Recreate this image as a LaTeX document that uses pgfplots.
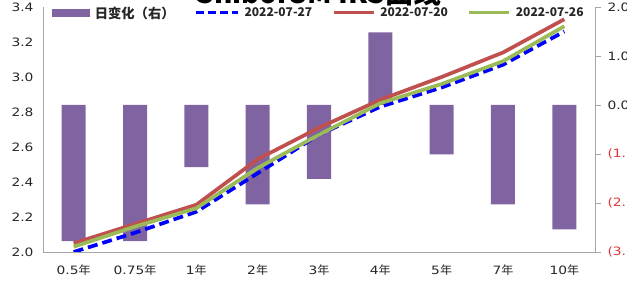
\documentclass[border=0pt]{standalone}
\usepackage{pgfplots}
\pgfplotsset{compat=1.18}
\usepackage{fontspec}
\setmainfont{DejaVu Sans}[FakeStretch=1.2]
\newfontfamily\cjk{Noto Sans CJK SC}
\newfontfamily\cjkw{Noto Sans CJK SC}[FakeStretch=1.05]
\definecolor{barpurple}{HTML}{8064A2}
\definecolor{linered}{HTML}{C0504D}
\definecolor{linegreen}{HTML}{9BBB59}
\definecolor{lineblue}{HTML}{0000FF}
\definecolor{negred}{HTML}{E0363A}
\definecolor{axgray}{HTML}{A6A6A6}
\definecolor{txt}{HTML}{262626}
\begin{document}
\begin{tikzpicture}[x=1pt,y=1pt]
\pgfplotsset{
  common/.style={
    at={(43pt,34pt)}, anchor=south west, scale only axis,
    width=552pt, height=245pt,
    xmin=-0.5, xmax=8.5,
    axis line style={axgray, line width=0.9pt},
    tick style={axgray, line width=0.9pt},
    ticklabel style={font=\fontsize{11.5}{13}\selectfont, text=txt},
  }
}
% right axis with bars
\begin{axis}[common,
  ymin=-3, ymax=2,
  axis y line*=right, axis x line=none,
  ytick={-3,-2,-1,0,1,2},
  yticklabels={\textcolor{negred}{(3.00)},\textcolor{negred}{(2.00)},\textcolor{negred}{(1.00)},0.00,1.00,2.00},
  tick align=outside, major tick length=6pt,
  yticklabel style={anchor=west, xshift=3pt},
]
\addplot[ybar, bar width=24pt, fill=barpurple, draw=none, bar shift=0pt] coordinates {
 (0,-2.78) (1,-2.78) (2,-1.27) (3,-2.03) (4,-1.51) (5,1.48) (6,-1.01) (7,-2.03) (8,-2.54)
};
\end{axis}
% left axis with lines
\begin{axis}[common,
  ymin=2, ymax=3.4,
  axis y line*=left, axis x line*=bottom,
  xtick={0,...,8},
  xticklabels={0.5{\cjkw 年},0.75{\cjkw 年},1{\cjkw 年},2{\cjkw 年},3{\cjkw 年},4{\cjkw 年},5{\cjkw 年},7{\cjkw 年},10{\cjkw 年}},
  ytick={2,2.2,2.4,2.6,2.8,3.0,3.2,3.4},
  /pgf/number format/fixed, /pgf/number format/fixed zerofill, /pgf/number format/precision=1,
  /pgf/number format/assume math mode=true,
  major tick length=0pt,
  xticklabel style={yshift=-9pt},
  yticklabel style={xshift=-6pt},
  legend columns=4,
  legend style={at={(0.5,1)}, anchor=center, yshift=-6pt, draw=none, fill=none,
    font=\cjk\bfseries\fontsize{12}{14}\selectfont, text=txt,
    /tikz/every even column/.append style={column sep=18pt},
    /tikz/every odd column/.append style={column sep=3pt},
    inner sep=0pt},
]
\addlegendimage{legend image code/.code={\fill[barpurple] (0pt,-3.5pt) rectangle (37pt,3.5pt);}}
\addlegendentry{\fontsize{13.3}{14}\selectfont 日变化（右）}
\addlegendimage{legend image code/.code={\draw[lineblue, line width=3pt, dash pattern=on 8pt off 4pt] (0pt,0pt) -- (42pt,0pt);}}
\addlegendentry{2022-07-27}
\addlegendimage{legend image code/.code={\draw[linered, line width=3pt] (0pt,0pt) -- (40pt,0pt);}}
\addlegendentry{2022-07-20}
\addlegendimage{legend image code/.code={\draw[linegreen, line width=3pt] (0pt,0pt) -- (40pt,0pt);}}
\addlegendentry{2022-07-26}
\addplot[forget plot, lineblue, line width=3.7pt, dash pattern=on 10pt off 5pt] coordinates {
 (0,2.00) (1,2.11) (2,2.23) (3,2.45) (4,2.67) (5,2.83) (6,2.94) (7,3.07) (8,3.26)
};
\addplot[forget plot, linered, line width=3.7pt] coordinates {
 (0,2.05) (1,2.16) (2,2.27) (3,2.53) (4,2.71) (5,2.87) (6,3.00) (7,3.14) (8,3.33)
};
\addplot[forget plot, linegreen, line width=3.7pt] coordinates {
 (0,2.03) (1,2.145) (2,2.25) (3,2.48) (4,2.67) (5,2.85) (6,2.96) (7,3.09) (8,3.29)
};
\end{axis}
\node[font=\cjk\bfseries\fontsize{28}{30}\selectfont, anchor=base, text=black] at (319pt,282pt) {Shibor3M IRS曲线};
\pgfresetboundingbox
\useasboundingbox (0pt,0pt) rectangle (627pt,286pt);
\end{tikzpicture}
\end{document}
